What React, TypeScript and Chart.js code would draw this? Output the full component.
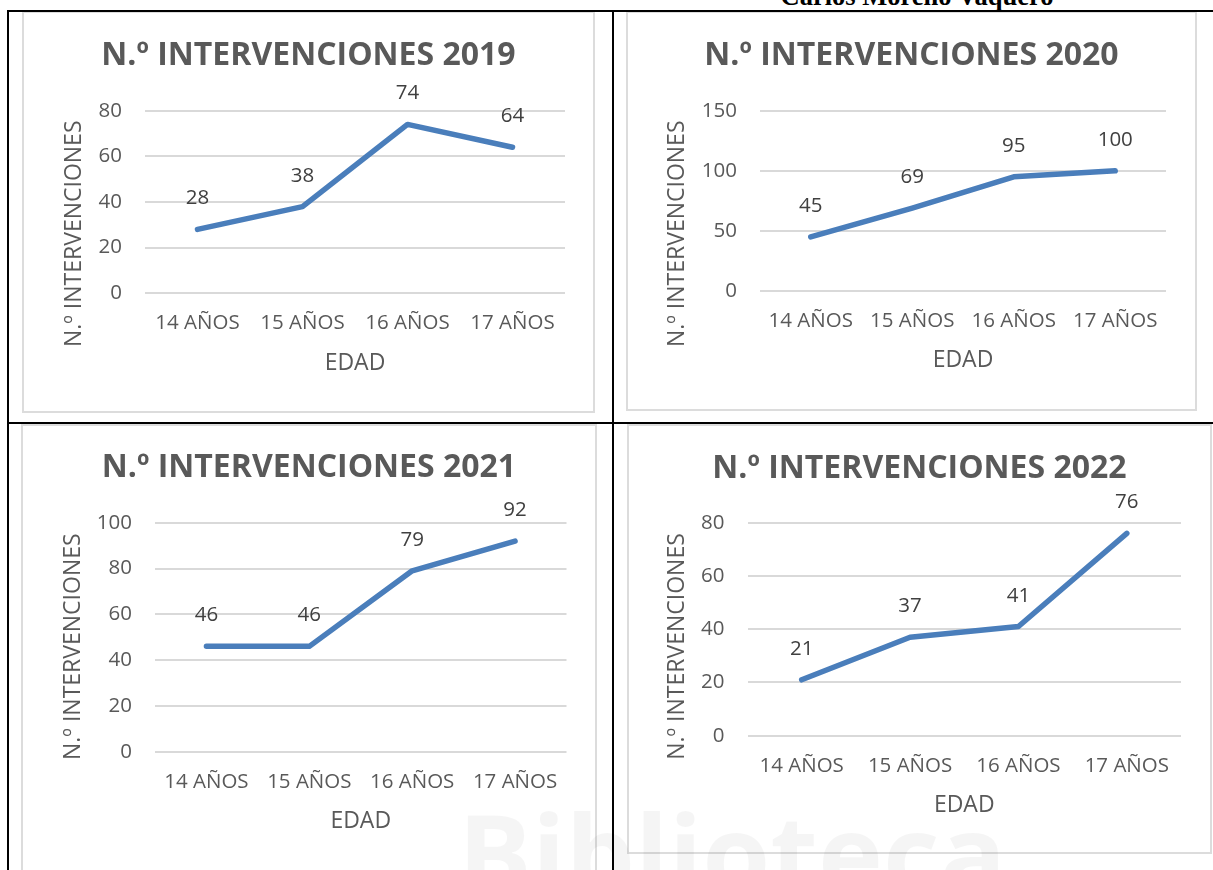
import React, { useEffect, useRef } from "react";
import { Chart, registerables } from "chart.js";

Chart.register(...registerables);

// ---------- data ----------
const categories = ["14 AÑOS", "15 AÑOS", "16 AÑOS", "17 AÑOS"];
const values2019 = [28, 38, 74, 64];
const values2020 = [45, 69, 95, 100];
const values2021 = [46, 46, 79, 92];
const values2022 = [21, 37, 41, 76];
const chartTitles = [
  "N.º INTERVENCIONES 2019",
  "N.º INTERVENCIONES 2020",
  "N.º INTERVENCIONES 2021",
  "N.º INTERVENCIONES 2022",
];
const yMaxes = [80, 150, 100, 80];
const ySteps = [20, 50, 20, 20];
const xAxisTitle = "EDAD";
const yAxisTitle = "N.º INTERVENCIONES";
const headerText = "Carlos Moreno Vaquero";
const watermarkText = "Biblioteca";

// ---------- styles / layout ----------
const FONT = '"Open Sans", "Noto Sans", sans-serif';
const TEXT = "#595959";
const LABEL = "#404040";
const LINE = "#4a7ebb";
const GRID = "#d9d9d9";
const BW = 2;

type Layout = {
  L: number; T: number; W: number; H: number;
  plotL: number; plotR: number; plotT: number; plotB: number;
  titleY: number; yTitleX: number; yTitleY: number; xTitleY: number;
};

const layouts: Layout[] = [
  { L: 22, T: 11, W: 573, H: 402, plotL: 145, plotR: 565, plotT: 110.7, plotB: 293.3, titleY: 55.8, yTitleX: 74.5, yTitleY: 233.8, xTitleY: 363 },
  { L: 626, T: 11, W: 571, H: 400, plotL: 760, plotR: 1166, plotT: 110.7, plotB: 291, titleY: 55.8, yTitleX: 677, yTitleY: 233.8, xTitleY: 360.5 },
  { L: 21, T: 424, W: 576, H: 452, plotL: 155, plotR: 566.5, plotT: 522.7, plotB: 751.7, titleY: 468.3, yTitleX: 73.5, yTitleY: 646.7, xTitleY: 821.7 },
  { L: 627, T: 424, W: 585, H: 430, plotL: 747.5, plotR: 1181, plotT: 522.7, plotB: 735.7, titleY: 468.8, yTitleX: 677.4, yTitleY: 646.5, xTitleY: 805.8 },
];

const TITLE_SIZE = 32;
const TICK_SIZE = 20.5;
const AXIS_TITLE_SIZE = 23;

const pointLabelPlugin = {
  id: "pointLabels",
  afterDatasetsDraw(chart: any) {
    const ctx = chart.ctx;
    const meta = chart.getDatasetMeta(0);
    const data = chart.data.datasets[0].data;
    ctx.save();
    ctx.font = `${TICK_SIZE}px ${FONT}`;
    ctx.fillStyle = LABEL;
    ctx.textAlign = "center";
    ctx.textBaseline = "alphabetic";
    meta.data.forEach((pt: any, i: number) => {
      ctx.fillText(String(data[i]), pt.x, pt.y - 25);
    });
    ctx.restore();
  },
};

const yTitlePlugin = {
  id: "yTitle",
  afterDraw(chart: any, _args: any, opts: any) {
    if (!opts || !opts.text) return;
    const ctx = chart.ctx;
    ctx.save();
    ctx.translate(opts.x, opts.y);
    ctx.rotate(-Math.PI / 2);
    ctx.font = `${AXIS_TITLE_SIZE}px ${FONT}`;
    ctx.fillStyle = TEXT;
    ctx.textAlign = "center";
    ctx.textBaseline = "middle";
    ctx.fillText(opts.text, 0, 0);
    ctx.restore();
  },
};

function LineBox({ idx, values }: { idx: number; values: number[] }) {
  const ref = useRef<HTMLCanvasElement | null>(null);
  const lay = layouts[idx];
  const ox = lay.L + BW;
  const oy = lay.T + BW;
  const cw = lay.W - 2 * BW;
  const ch = lay.H - 2 * BW;

  useEffect(() => {
    if (!ref.current) return;
    const titleLH = TITLE_SIZE * 1.2;
    const titleMid = lay.titleY - oy;
    const tPadTop = titleMid - titleLH / 2;
    const tPadBottom = lay.plotT - oy - tPadTop - titleLH;
    const padSide = cw - (lay.plotR - ox);
    const yAxisWidth = lay.plotL - ox - padSide;
    const xAxisHeight = ch - (lay.plotB - oy);
    const xTitlePadBottom = ch - (lay.xTitleY - oy) - (AXIS_TITLE_SIZE * 1.2) / 2;

    const chart = new Chart(ref.current, {
      type: "line",
      data: {
        labels: categories,
        datasets: [
          {
            data: values,
            borderColor: LINE,
            backgroundColor: LINE,
            borderWidth: 5.5,
            borderCapStyle: "round",
            borderJoinStyle: "round",
            pointRadius: 0,
            pointHoverRadius: 0,
            tension: 0,
            fill: false,
          },
        ],
      },
      options: {
        responsive: false,
        animation: false,
        events: [],
        layout: { padding: { left: padSide, right: padSide, top: 0, bottom: 0 } },
        plugins: {
          legend: { display: false },
          tooltip: { enabled: false },
          title: {
            display: true,
            text: chartTitles[idx],
            color: TEXT,
            font: { family: FONT, size: TITLE_SIZE, weight: "bold" },
            padding: { top: tPadTop, bottom: tPadBottom },
          },
          yTitle: { text: yAxisTitle, x: lay.yTitleX - ox, y: lay.yTitleY - oy },
        } as any,
        scales: {
          x: {
            type: "category",
            offset: true,
            grid: { display: false, drawTicks: false },
            border: { display: false },
            ticks: {
              color: TEXT,
              font: { family: FONT, size: TICK_SIZE },
              padding: 18,
              maxRotation: 0,
              autoSkip: false,
            },
            title: {
              display: true,
              text: xAxisTitle,
              color: TEXT,
              font: { family: FONT, size: AXIS_TITLE_SIZE },
              padding: { top: 0, bottom: xTitlePadBottom },
            },
            afterFit: (s: any) => {
              s.height = xAxisHeight;
            },
          },
          y: {
            min: 0,
            max: yMaxes[idx],
            ticks: {
              stepSize: ySteps[idx],
              color: TEXT,
              font: { family: FONT, size: TICK_SIZE },
              padding: 23,
            },
            grid: { color: GRID, lineWidth: 2, drawTicks: false },
            border: { display: false },
            afterFit: (s: any) => {
              s.width = yAxisWidth;
            },
          },
        },
      },
      plugins: [pointLabelPlugin, yTitlePlugin],
    } as any);
    return () => chart.destroy();
  }, []);

  return (
    <div
      style={{
        position: "absolute",
        left: lay.L,
        top: lay.T,
        width: lay.W,
        height: lay.H,
        boxSizing: "border-box",
        border: `${BW}px solid #dcdcdc`,
        background: "#ffffff",
      }}
    >
      <canvas
        ref={ref}
        width={cw}
        height={ch}
        style={{ position: "absolute", left: 0, top: 0, width: cw, height: ch }}
      />
    </div>
  );
}

const seriesList = [values2019, values2020, values2021, values2022];

export default function App() {
  const line = (s: React.CSSProperties) => (
    <div style={{ position: "absolute", background: "#000", ...s }} />
  );
  return (
    <div
      style={{
        position: "absolute",
        left: 0,
        top: 0,
        width: 1213,
        height: 870,
        overflow: "hidden",
        background: "#ffffff",
      }}
    >
      <div
        style={{
          position: "absolute",
          left: 717,
          top: -16.7,
          width: 400,
          textAlign: "center",
          fontFamily: '"Liberation Serif", "Times New Roman", serif',
          fontWeight: "bold",
          fontSize: 26.5,
          lineHeight: "26.5px",
          color: "#000",
          whiteSpace: "nowrap",
        }}
      >
        {headerText}
      </div>
      {seriesList.map((v, i) => (
        <LineBox key={i} idx={i} values={v} />
      ))}
      {line({ left: 7, top: 10, width: 1206, height: 2 })}
      {line({ left: 7, top: 422, width: 1206, height: 2 })}
      {line({ left: 7, top: 10, width: 2, height: 860 })}
      {line({ left: 612, top: 10, width: 2, height: 860 })}
      <div
        style={{
          position: "absolute",
          left: 458,
          top: 796,
          fontFamily: FONT,
          fontWeight: "bold",
          fontSize: 110,
          lineHeight: "110px",
          color: "rgba(0,0,0,0.04)",
          whiteSpace: "nowrap",
          pointerEvents: "none",
        }}
      >
        {watermarkText}
      </div>
    </div>
  );
}
